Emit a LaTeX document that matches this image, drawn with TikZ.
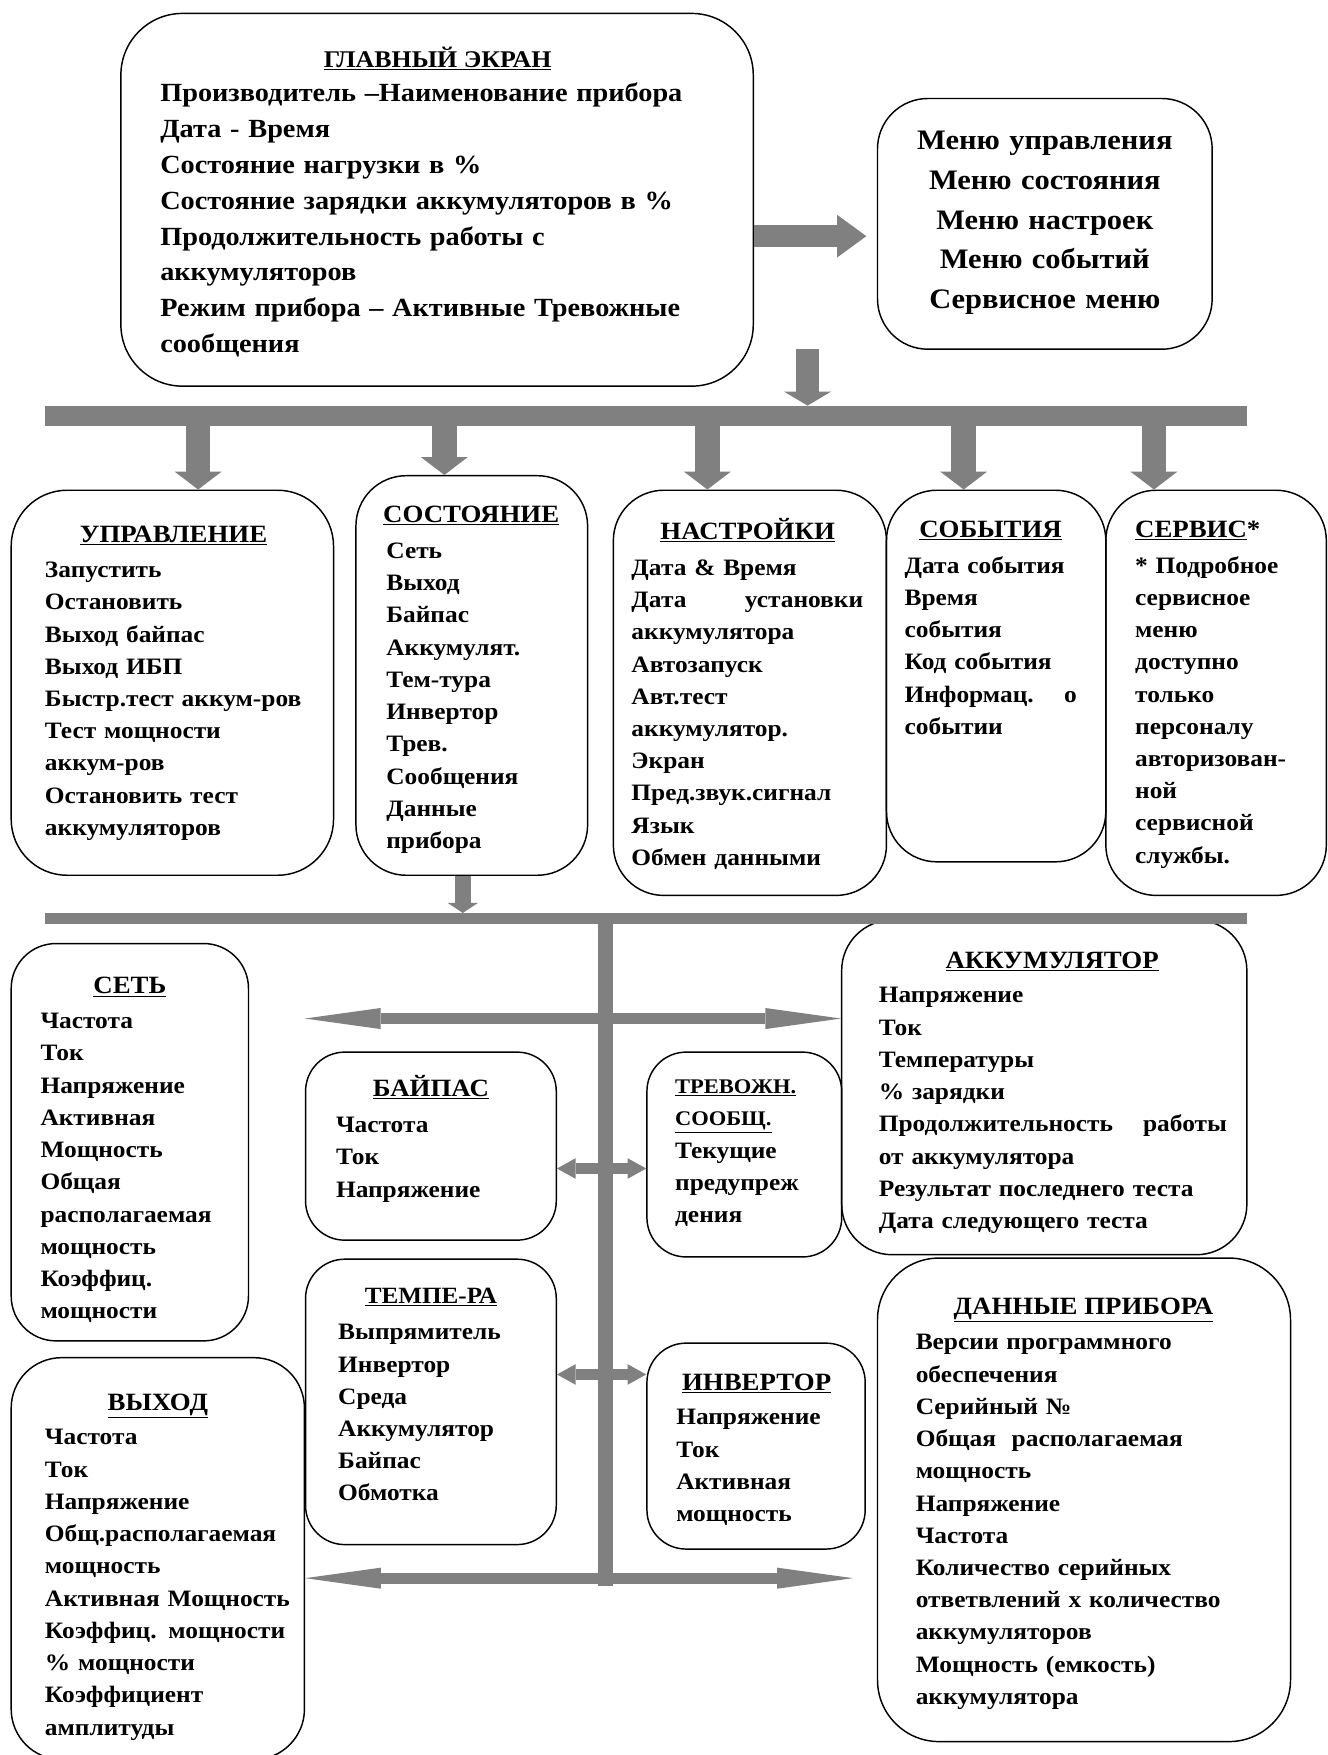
\documentclass[tikz,border=0pt]{standalone}
\usepackage{fontspec}
\setmainfont{Liberation Serif}[FakeStretch=1.08]
\usetikzlibrary{arrows.meta,fit}
\definecolor{ag}{RGB}{128,128,128}
\newcommand\jline[3]{\leavevmode\hbox to #1{#2\hfill #3}}
\tikzset{
  box/.style={draw, line width=1.3pt, rounded corners=#1, inner sep=0pt},
  body/.style={anchor=base west, inner sep=0pt, align=left, text width=#1, font=\fontsize{21}{28.8}\selectfont\bfseries},
  ttl/.style={anchor=base, inner sep=0pt, font=\fontsize{22.2}{28}\selectfont\bfseries},
  fat/.style={draw=ag, line width=#1},
}
\begin{document}
\begin{tikzpicture}[x=1pt,y=-1pt]
\useasboundingbox (0,0) rectangle (1186,1568);
\fill[white] (0,0) rectangle (1186,1568);

% ---------- boxes ----------
\node[box=55pt, fit={(108,12) (673,345)}] (main) {};
\node[box=45pt, fit={(784,88) (1083,312)}] (menu) {};
\node[box=50pt, fit={(10,438) (298,782)}] (ctrl) {};
\node[box=45pt, fit={(318,425) (525,782)}] (stat) {};
\node[box=45pt, fit={(548,438) (792,800)}] (sett) {};
\node[box=45pt, fit={(792,438) (988,770)}] (evnt) {};
\node[box=45pt, fit={(988,438) (1185,800)}] (serv) {};
\node[box=40pt, fit={(10,843) (222,1198)}] (net) {};
\node[box=45pt, fit={(10,1213) (272,1572)}] (out) {};
\node[box=35pt, fit={(273,940) (497,1108)}] (byp) {};
\node[box=35pt, fit={(273,1125) (497,1380)}] (tmp) {};
\node[box=35pt, fit={(578,940) (752,1123)}] (alarm) {};
\node[box=35pt, fit={(578,1200) (773,1384)}] (inv) {};
\node[box=45pt, fit={(752,822) (1114,1121)}] (batt) {};
\node[box=55pt, fit={(784,1124) (1153,1556)}] (data) {};

% ---------- texts ----------
\node[ttl, font=\fontsize{21.4}{26}\selectfont\bfseries] (mainT) at (391,60) {\underline{ГЛАВНЫЙ ЭКРАН}};
\node[body=560pt, font=\fontsize{23.4}{32}\selectfont\bfseries] (mainB) at (143,91) {Производитель –Наименование прибора\\Дата - Время\\Состояние нагрузки в \%\\Состояние зарядки аккумуляторов в \%\\Продолжительность работы с\\аккумуляторов\\Режим прибора – Активные Тревожные\\сообщения};

\node[anchor=base, inner sep=0pt, align=center, text width=300pt, font=\fontsize{25.2}{35.3}\selectfont\bfseries] (menuT) at (933.5,134) {Меню управления\\Меню состояния\\Меню настроек\\Меню событий\\Сервисное меню};

\node[ttl] (ctrlT) at (155,485) {\underline{УПРАВЛЕНИЕ}};
\node[body=270pt] (ctrlB) at (40,516) {Запустить\\Остановить\\Выход байпас\\Выход ИБП\\Быстр.тест аккум-ров\\Тест мощности\\аккум-ров\\Остановить тест\\аккумуляторов};

\node[ttl] (statT) at (421,467) {\underline{СОСТОЯНИЕ}};
\node[body=180pt] (statB) at (345,499) {Сеть\\Выход\\Байпас\\Аккумулят.\\Тем-тура\\Инвертор\\Трев.\\Сообщения\\Данные\\прибора};

\node[ttl] (settT) at (668,482) {\underline{НАСТРОЙКИ}};
\node[body=240pt] (settB) at (564,514) {Дата \& Время\\\jline{207pt}{Дата}{установки}\\аккумулятора\\Автозапуск\\Авт.тест\\аккумулятор.\\Экран\\Пред.звук.сигнал\\Язык\\Обмен данными};

\node[ttl] (evntT) at (885,480) {\underline{СОБЫТИЯ}};
\node[body=180pt] (evntB) at (808,512) {Дата события\\Время\\события\\Код события\\\jline{154pt}{Информац.}{о}\\событии};

\node[ttl, anchor=base west] (servT) at (1014,480) {\underline{СЕРВИС}*};
\node[body=170pt] (servB) at (1014,512) {* Подробное\\сервисное\\меню\\доступно\\только\\персоналу\\авторизован-\\ной\\сервисной\\службы.};

\node[ttl] (netT) at (116,888) {\underline{СЕТЬ}};
\node[body=180pt] (netB) at (36,919) {Частота\\Ток\\Напряжение\\Активная\\Мощность\\Общая\\располагаемая\\мощность\\Коэффиц.\\мощности};

\node[ttl] (outT) at (141,1260) {\underline{ВЫХОД}};
\node[body=250pt] (outB) at (40,1291) {Частота\\Ток\\Напряжение\\Общ.располагаемая\\мощность\\Активная Мощность\\Коэффиц. мощности\\\% мощности\\Коэффициент\\амплитуды};

\node[ttl] (bypT) at (385,980) {\underline{БАЙПАС}};
\node[body=190pt] (bypB) at (300,1012) {Частота\\Ток\\Напряжение};

\node[ttl, font=\fontsize{20.8}{24}\selectfont\bfseries] (tmpT) at (385,1165) {\underline{ТЕМПЕ-РА}};
\node[body=190pt] (tmpB) at (302,1197) {Выпрямитель\\Инвертор\\Среда\\Аккумулятор\\Байпас\\Обмотка};

\node[body=160pt, font=\fontsize{18.6}{28.8}\selectfont\bfseries] (alarmT) at (603,977) {\underline{ТРЕВОЖН.}\\\underline{СООБЩ.}};
\node[body=160pt] (alarmB) at (603,1035) {Текущие\\предупреж\\дения};

\node[ttl] (invT) at (676,1242) {\underline{ИНВЕРТОР}};
\node[body=170pt] (invB) at (604,1273) {Напряжение\\Ток\\Активная\\мощность};

\node[ttl] (battT) at (940,865) {\underline{АККУМУЛЯТОР}};
\node[body=340pt] (battB) at (785,896) {Напряжение\\Ток\\Температуры\\\% зарядки\\\jline{311pt}{Продолжительность}{работы}\\от аккумулятора\\Результат последнего теста\\Дата следующего теста};

\node[ttl] (dataT) at (968,1174) {\underline{ДАННЫЕ ПРИБОРА}};
\node[body=340pt] (dataB) at (818,1206) {Версии программного\\обеспечения\\Серийный №\\Общая\ \ располагаемая\\мощность\\Напряжение\\Частота\\Количество серийных\\ответвлений х количество\\аккумуляторов\\Мощность (емкость)\\аккумулятора};

% ---------- connectors ----------
\coordinate (r1) at (774,211);
\draw[fat=20pt, -{Triangle[length=26pt 0 0,width=38pt 0 0,line width=0pt 0 0]}] (main.east |- r1) -- (r1);

\coordinate (m1) at (721.5,312);
\coordinate (b1L) at (40,371.4);
\coordinate (b1R) at (1114,371.4);
\draw[fat=18pt] (b1L) -- (b1R);
\draw[fat=21pt, shorten >=9pt, -{Triangle[length=12.5pt 0 0,width=42pt 0 0,line width=0pt 0 0]}] (m1) -- (m1 |- b1L);

\coordinate (t1) at (177,371.4);
\coordinate (t2) at (397,371.4);
\coordinate (t3) at (632,371.4);
\coordinate (t4) at (861,371.4);
\coordinate (t5) at (1031,371.4);
\draw[fat=22pt, -{Triangle[length=16pt 0 0,width=42pt 0 0,line width=0pt 0 0]}] (t1) -- (t1 |- ctrl.north);
\draw[fat=22pt, -{Triangle[length=16pt 0 0,width=42pt 0 0,line width=0pt 0 0]}] (t2) -- (t2 |- stat.north);
\draw[fat=22pt, -{Triangle[length=16pt 0 0,width=42pt 0 0,line width=0pt 0 0]}] (t3) -- (t3 |- sett.north);
\draw[fat=22pt, -{Triangle[length=16pt 0 0,width=42pt 0 0,line width=0pt 0 0]}] (t4) -- (t4 |- evnt.north);
\draw[fat=22pt, -{Triangle[length=16pt 0 0,width=42pt 0 0,line width=0pt 0 0]}] (t5) -- (t5 |- serv.north);

\coordinate (b2L) at (40,820.5);
\coordinate (b2R) at (1114,820.5);
\draw[fat=9.5pt] (b2L) -- (b2R);
\coordinate (s1) at (413.5,820.5);
\draw[fat=14pt, shorten >=4.8pt, -{Triangle[length=9pt 0 0,width=27pt 0 0,line width=0pt 0 0]}] (stat.south -| s1) -- (s1);

\coordinate (trT) at (541,820.5);
\coordinate (trB) at (541,1417);
\draw[fat=13.4pt] (trT) -- (trB);

\coordinate (uL) at (272.4,910);
\draw[fat=9.8pt, {Triangle[length=67.6pt 0 0,width=18.8pt 0 0,line width=0pt 0 0]}-{Triangle[length=67.6pt 0 0,width=18.8pt 0 0,line width=0pt 0 0]}] (uL) -- (batt.west |- uL);
\coordinate (lR) at (762,1410);
\draw[fat=9.8pt, {Triangle[length=67.6pt 0 0,width=18.8pt 0 0,line width=0pt 0 0]}-{Triangle[length=67.6pt 0 0,width=18.8pt 0 0,line width=0pt 0 0]}] (out.east |- lR) -- (lR);

\coordinate (h1) at (0,1044);
\coordinate (h2) at (0,1228);
\draw[fat=9pt, {Triangle[length=16.7pt 0 0,width=18.5pt 0 0,line width=0pt 0 0]}-{Triangle[length=16.7pt 0 0,width=18.5pt 0 0,line width=0pt 0 0]}] (byp.east |- h1) -- (alarm.west |- h1);
\draw[fat=9pt, {Triangle[length=16.7pt 0 0,width=18.5pt 0 0,line width=0pt 0 0]}-{Triangle[length=16.7pt 0 0,width=18.5pt 0 0,line width=0pt 0 0]}] (tmp.east |- h2) -- (inv.west |- h2);
\end{tikzpicture}
\end{document}
